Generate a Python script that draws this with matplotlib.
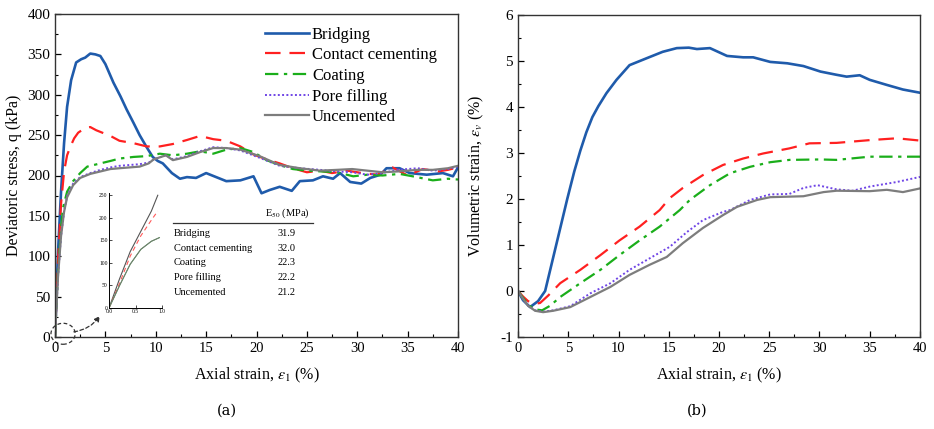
import numpy as np
import matplotlib
matplotlib.use("Agg")
import matplotlib.pyplot as plt
from matplotlib.patches import Ellipse

plt.rcParams['font.family'] = ['Liberation Serif', 'DejaVu Serif']
plt.rcParams['mathtext.fontset'] = 'stix'
plt.rcParams['axes.unicode_minus'] = False

# ---- (a) deviatoric stress vs axial strain ----
bri_x = [0, 0.3, 0.6, 0.9, 1.2, 1.6, 2.1, 2.6, 3.0, 3.5, 4.0, 4.5, 5.0, 5.8, 6.5, 7.1, 7.8, 8.4, 9.1,
         9.7, 10.2, 10.7, 11.6, 12.4, 13.1, 14.0, 15.0, 16.0, 17.0, 18.4, 19.7, 20.5, 21.3, 22.3, 23.5,
         24.3, 25.6, 26.6, 27.6, 28.3, 29.3, 30.4, 31.3, 32.3, 32.9, 34.2, 35.2, 36.9, 38.5, 39.5, 40.0]
bri_q = [0, 105, 180, 240, 285, 318, 340, 344, 346, 351, 350, 348, 338, 315, 298, 282, 265, 250, 235,
         223, 218, 215, 203, 196, 198, 197, 203, 198, 193, 194, 199, 178, 182, 186, 181,
         193, 194, 199, 196, 203, 192, 190, 197, 201, 209, 209, 203, 201, 203, 199, 210]

con_x = [0, 0.3, 0.6, 0.9, 1.2, 1.5, 1.9, 2.3, 3.0, 3.5, 4.1, 5.5, 6.4, 7.8, 9.1, 10.4, 11.7, 13.1,
         14.4, 15.7, 17.0, 18.4, 19.7, 21.0, 22.3, 23.6, 25.0, 26.3, 27.5, 29.0, 30.5, 32.0, 33.5,
         35.0, 36.5, 38.0, 39.0, 40.0]
con_q = [0, 95, 165, 205, 225, 235, 246, 253, 259, 260, 256, 249, 243, 240, 236, 236, 239, 244,
         249, 245, 243, 236, 226, 220, 215, 209, 204, 206, 203, 206, 203, 201, 210, 200, 208, 205, 207, 210]

coa_x = [0, 0.3, 0.6, 0.8, 1.2, 1.8, 2.5, 3.2, 4.5, 5.5, 6.4, 7.8, 9.1, 10.4, 11.7, 13.1, 14.4, 15.7,
         17.0, 18.4, 19.7, 21.0, 22.3, 23.6, 25.0, 26.5, 28.0, 29.6, 31.0, 32.5, 34.2, 35.5, 37.5, 39.0, 40.0]
coa_q = [0, 80, 135, 160, 180, 193, 203, 211, 215, 218, 221, 223, 224, 227, 225, 227, 230, 227,
         232, 234, 229, 219, 213, 208, 206, 205, 204, 199, 201, 200, 202, 199, 194, 196, 195]

pf_x = [0, 0.3, 0.6, 0.9, 1.2, 1.8, 2.5, 3.5, 4.5, 5.5, 6.4, 7.4, 8.4, 9.3, 9.8, 11.0, 11.7, 13.1,
        14.4, 15.7, 17.0, 18.4, 20.3, 22.3, 24.3, 26.3, 28.0, 29.5, 31.0, 32.5, 34.0, 36.0, 37.5, 39.0, 40.0]
pf_q = [0, 75, 125, 155, 175, 190, 198, 203, 207, 210, 212, 213, 214, 216, 220, 225, 220, 224,
        230, 235, 234, 231, 222, 212, 209, 207, 205, 204, 201, 203, 207, 209, 206, 208, 211]
unc_q = [0, 75, 125, 155, 173, 188, 197, 202, 205, 208, 209, 210, 211, 215, 220, 225, 219, 223,
         229, 234, 234, 232, 224, 213, 209, 206, 207, 208, 206, 204, 205, 207, 207, 209, 212]

# inset: initial part
ins_x = [0, 0.2, 0.4, 0.6, 0.8, 0.92]
ins_bri = [0, 65, 125, 170, 215, 250]
ins_con = [0, 55, 115, 160, 195, 215]
ins_low_x = [0, 0.2, 0.4, 0.6, 0.8, 0.95]
ins_low = [0, 50, 97, 130, 148, 156]

# E50 table
e50_names = ['Bridging', 'Contact cementing', 'Coating', 'Pore filling', 'Uncemented']
e50_vals = ['31.9', '32.0', '22.3', '22.2', '21.2']

# ---- (b) volumetric strain vs axial strain ----
vb_x = [0, 0.5, 1.2, 2.0, 2.7, 3.8, 4.9, 5.6, 6.2, 6.8, 7.4, 8.0, 8.8, 9.8, 11.1, 12.8, 14.4, 15.8, 17.0,
        17.8, 19.1, 19.9, 20.8, 22.4, 23.4, 25.1, 26.8, 28.4, 30.1, 31.7, 32.7, 34.0, 35.0, 36.7, 38.3, 40.0]
vb_e = [0, -0.2, -0.35, -0.22, 0.0, 1.0, 2.0, 2.6, 3.05, 3.45, 3.78, 4.02, 4.3, 4.59, 4.91, 5.06, 5.2,
        5.28, 5.29, 5.26, 5.28, 5.2, 5.11, 5.08, 5.08, 4.98, 4.95, 4.89, 4.77, 4.7, 4.66, 4.69, 4.59,
        4.48, 4.38, 4.31]
vc_x = [0, 0.5, 1.0, 1.7, 2.2, 3.0, 4.2, 6.2, 8.2, 10.1, 12.1, 14.1, 15.1, 16.4, 18.4, 20.4, 22.4,
        24.4, 27.0, 29.0, 31.7, 35.0, 37.7, 40.0]
vc_e = [0, -0.12, -0.22, -0.28, -0.26, -0.1, 0.17, 0.46, 0.78, 1.1, 1.4, 1.76, 2.02, 2.24, 2.52, 2.74, 2.88,
        2.99, 3.1, 3.21, 3.22, 3.28, 3.32, 3.27]
vo_x = [0, 0.5, 1.0, 1.7, 2.4, 3.2, 4.2, 6.2, 8.2, 10.1, 12.1, 14.1, 16.1, 17.1, 19.1, 21.1, 23.1,
        25.1, 27.0, 30.1, 31.7, 35.0, 40.0]
vo_e = [0, -0.15, -0.3, -0.4, -0.42, -0.32, -0.13, 0.17, 0.46, 0.78, 1.1, 1.4, 1.76, 1.98, 2.3, 2.56, 2.7,
        2.8, 2.85, 2.86, 2.85, 2.92, 2.92]
vp_x = [0, 0.5, 1.0, 1.7, 2.5, 3.5, 5.2, 7.2, 9.2, 11.1, 13.1, 15.1, 16.8, 18.4, 20.4, 21.1, 23.1,
        25.1, 27.0, 28.4, 29.8, 31.7, 33.3, 35.0, 37.7, 40.0]
vp_e = [0, -0.17, -0.32, -0.42, -0.45, -0.42, -0.33, -0.05, 0.17, 0.46, 0.71, 0.96, 1.28, 1.54, 1.72, 1.76,
        1.98, 2.1, 2.11, 2.24, 2.3, 2.21, 2.18, 2.27, 2.37, 2.48]
vu_x = [0, 0.5, 1.0, 1.7, 2.5, 3.5, 5.2, 7.2, 9.2, 11.1, 13.1, 14.8, 16.4, 18.4, 20.4, 21.8, 23.8,
        25.1, 28.4, 30.4, 31.7, 35.0, 36.7, 38.3, 40.0]
vu_e = [0, -0.17, -0.32, -0.43, -0.46, -0.43, -0.35, -0.13, 0.09, 0.35, 0.57, 0.74, 1.04, 1.37, 1.65,
        1.83, 1.98, 2.04, 2.06, 2.15, 2.18, 2.17, 2.2, 2.15, 2.23]

# styles
c_bri, c_con, c_coa, c_pf, c_unc = '#1f5bab', '#ff2020', '#1aae1a', '#6f45e6', '#7d7d7d'
st_bri = dict(color=c_bri, lw=1.9, ls='-')
st_con = dict(color=c_con, lw=1.6, ls=(0, (7, 4)))
st_coa = dict(color=c_coa, lw=1.6, ls=(0, (6, 2.5, 1.5, 2.5)))
st_pf = dict(color=c_pf, lw=1.4, ls=(0, (1, 1.2)))
st_unc = dict(color=c_unc, lw=1.6, ls='-')

fig = plt.figure(figsize=(9.34, 4.29), dpi=100)
ax1 = fig.add_axes([55/934, 92/429, 403/934, 323/429])
ax2 = fig.add_axes([518/934, 92/429, 402/934, 322/429])

ax1.plot(bri_x, bri_q, label='Bridging', **st_bri)
ax1.plot(con_x, con_q, label='Contact cementing', **st_con)
ax1.plot(coa_x, coa_q, label='Coating', **st_coa)
ax1.plot(pf_x, pf_q, label='Pore filling', **st_pf)
ax1.plot(pf_x, unc_q, label='Uncemented', **st_unc)

ax2.plot(vb_x, vb_e, **st_bri)
ax2.plot(vc_x, vc_e, **st_con)
ax2.plot(vo_x, vo_e, **st_coa)
ax2.plot(vp_x, vp_e, **st_pf)
ax2.plot(vu_x, vu_e, **st_unc)

for ax in (ax1, ax2):
    ax.set_xlim(0, 40)
    ax.set_xticks(np.arange(0, 41, 5))
    ax.set_xticks(np.arange(0, 41, 2.5), minor=True)
    ax.tick_params(which='both', direction='in', top=False, right=False)
    ax.tick_params(axis='x', labelsize=10.5)
    ax.tick_params(axis='y', labelsize=11)
    ax.tick_params(which='major', length=4, width=0.9)
    ax.tick_params(which='minor', length=2.5, width=0.8)
    for s in ax.spines.values():
        s.set_linewidth(1.0)
        s.set_color('#333333')
    ax.set_xlabel(r'Axial strain, $\varepsilon_1$ (%)', fontsize=11.5, labelpad=8)

ax1.set_ylim(0, 400)
ax1.set_yticks(np.arange(0, 401, 50))
ax1.set_yticks(np.arange(0, 401, 25), minor=True)
ax1.set_ylabel('Deviatoric stress, q (kPa)', fontsize=11.5, labelpad=4)

ax2.set_ylim(-1, 6)
ax2.set_yticks(np.arange(-1, 7, 1))
ax2.set_yticks(np.arange(-1, 6.1, 0.5), minor=True)
ax2.set_ylabel(r'Volumetric strain, $\varepsilon_v$ (%)', fontsize=11.5, labelpad=10)

ax1.legend(loc='upper left', bbox_to_anchor=(0.493, 0.997), frameon=False, fontsize=12,
           handlelength=2.6, handletextpad=0.2, labelspacing=0.28, borderpad=0.2)

# dashed marker around origin and arrow to inset
ax1.add_patch(Ellipse((0.8, 4), 2.4, 26, fill=False, ls=(0, (3, 2)), lw=0.9,
                      ec='#333333', clip_on=False))
ax1.annotate('', xy=(4.6, 29), xytext=(1.6, 6),
             arrowprops=dict(arrowstyle='-|>', ls=(0, (3, 2)), lw=0.9, color='#333333',
                             connectionstyle='arc3,rad=0.25', mutation_scale=8))

# inset
axi = fig.add_axes([109/934, 121/429, 53/934, 115/429])
axi.plot(ins_x, ins_bri, color='#555555', lw=0.8)
axi.plot(ins_x, ins_con, color='#ff5a5a', lw=0.8, ls=(0, (4, 3)))
axi.plot(ins_low_x, ins_low, color='#4e9a4e', lw=0.8)
axi.plot(ins_low_x, ins_low, color='#777777', lw=0.6)
axi.set_xlim(0, 1.0)
axi.set_ylim(0, 255)
axi.set_xticks([0, 0.5, 1.0])
axi.set_xticklabels(['0.0', '0.5', '1.0'])
axi.set_yticks(np.arange(0, 251, 50))
axi.tick_params(direction='in', labelsize=4, length=2, width=0.5, pad=1)
axi.spines['top'].set_visible(False)
axi.spines['right'].set_visible(False)
for s in ('left', 'bottom'):
    axi.spines[s].set_linewidth(0.7)
axi.patch.set_alpha(0)

# E50 table
name_x = (174 - 55) / 10.075
val_x = (287 - 55) / 10.075
ax1.text(val_x, (336 - 213) / 0.8025, r'E$_{50}$ (MPa)', fontsize=7.5, ha='center', va='center')
ax1.plot([(173 - 55) / 10.075, (313 - 55) / 10.075], [(336 - 223) / 0.8025] * 2,
         color='#333333', lw=0.9)
for i, (nm, v) in enumerate(zip(e50_names, e50_vals)):
    yq = (336 - (233 + i * 14.6)) / 0.8025
    ax1.text(name_x, yq, nm, fontsize=7.5, ha='left', va='center')
    ax1.text(val_x, yq, v, fontsize=7.5, ha='center', va='center')

fig.text(227/934, 1 - 411/429, '(a)', fontsize=10.5, ha='center', va='center', family='DejaVu Serif')
fig.text(697/934, 1 - 411/429, '(b)', fontsize=10.5, ha='center', va='center', family='DejaVu Serif')

fig.savefig('out.png', dpi=100)
